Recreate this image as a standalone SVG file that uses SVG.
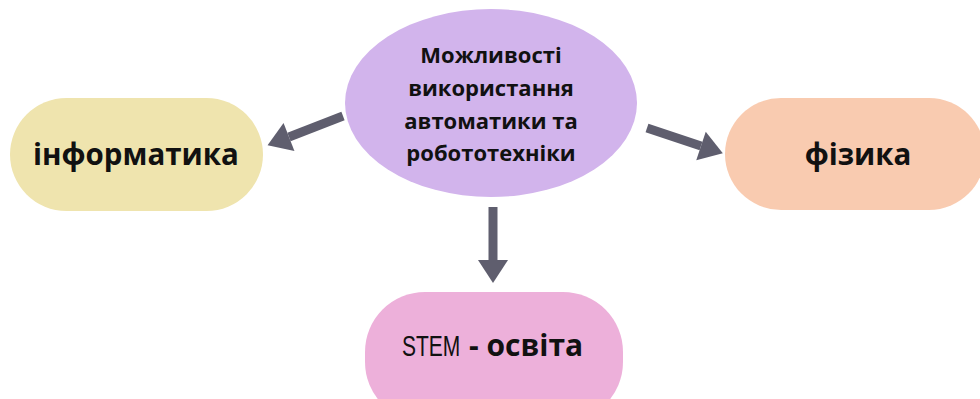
<svg xmlns="http://www.w3.org/2000/svg" width="980" height="399" viewBox="0 0 980 399">
  <style>
    .lbl { font-family: "Open Sans", "Noto Sans", "DejaVu Sans", sans-serif; font-weight: bold; fill: #111; text-anchor: middle; }
    .conn { stroke: #5f5e6e; stroke-width: 9; fill: none; }
  </style>
  <defs>
    <marker id="head" markerUnits="userSpaceOnUse" markerWidth="26" markerHeight="34" refX="0" refY="15" orient="auto" overflow="visible">
      <path d="M0,0 L23,15 L0,30 z" fill="#5f5e6e"/>
    </marker>
  </defs>
  <rect width="980" height="399" fill="#ffffff"/>

  <g id="connectors">
    <line class="conn" x1="343" y1="116" x2="289" y2="137" marker-end="url(#head)"/>
    <line class="conn" x1="647" y1="128" x2="701" y2="146" marker-end="url(#head)"/>
    <line class="conn" x1="493" y1="207" x2="493" y2="260" marker-end="url(#head)"/>
  </g>

  <g id="center">
    <ellipse cx="491" cy="103" rx="146" ry="94" fill="#d2b4ec"/>
    <text class="lbl" x="491" y="63" font-size="22">Можливості</text>
    <text class="lbl" x="491" y="96" font-size="22">використання</text>
    <text class="lbl" x="491" y="129" font-size="22">автоматики та</text>
    <text class="lbl" x="491" y="161" font-size="22">робототехніки</text>
  </g>

  <g id="informatyka">
    <rect x="10" y="98" width="253" height="113" rx="56.5" fill="#efe4ae"/>
    <text class="lbl" x="136" y="165" font-size="29.5">інформатика</text>
  </g>

  <g id="fizyka">
    <rect x="725" y="98" width="260" height="112" rx="56" fill="#f9cbb0"/>
    <text class="lbl" x="858" y="165" font-size="29.5">фізика</text>
  </g>

  <g id="stem">
    <rect x="365" y="292" width="258" height="130" rx="60" fill="#edb0da"/>
    <!-- condensed "STEM" -->
    <text transform="translate(402,356) scale(0.7,1)" font-family="'Liberation Sans', sans-serif" font-size="30" fill="#111">STEM</text>
    <text class="lbl" x="469" y="356" font-size="30" style="text-anchor:start">- освіта</text>
  </g>
</svg>
